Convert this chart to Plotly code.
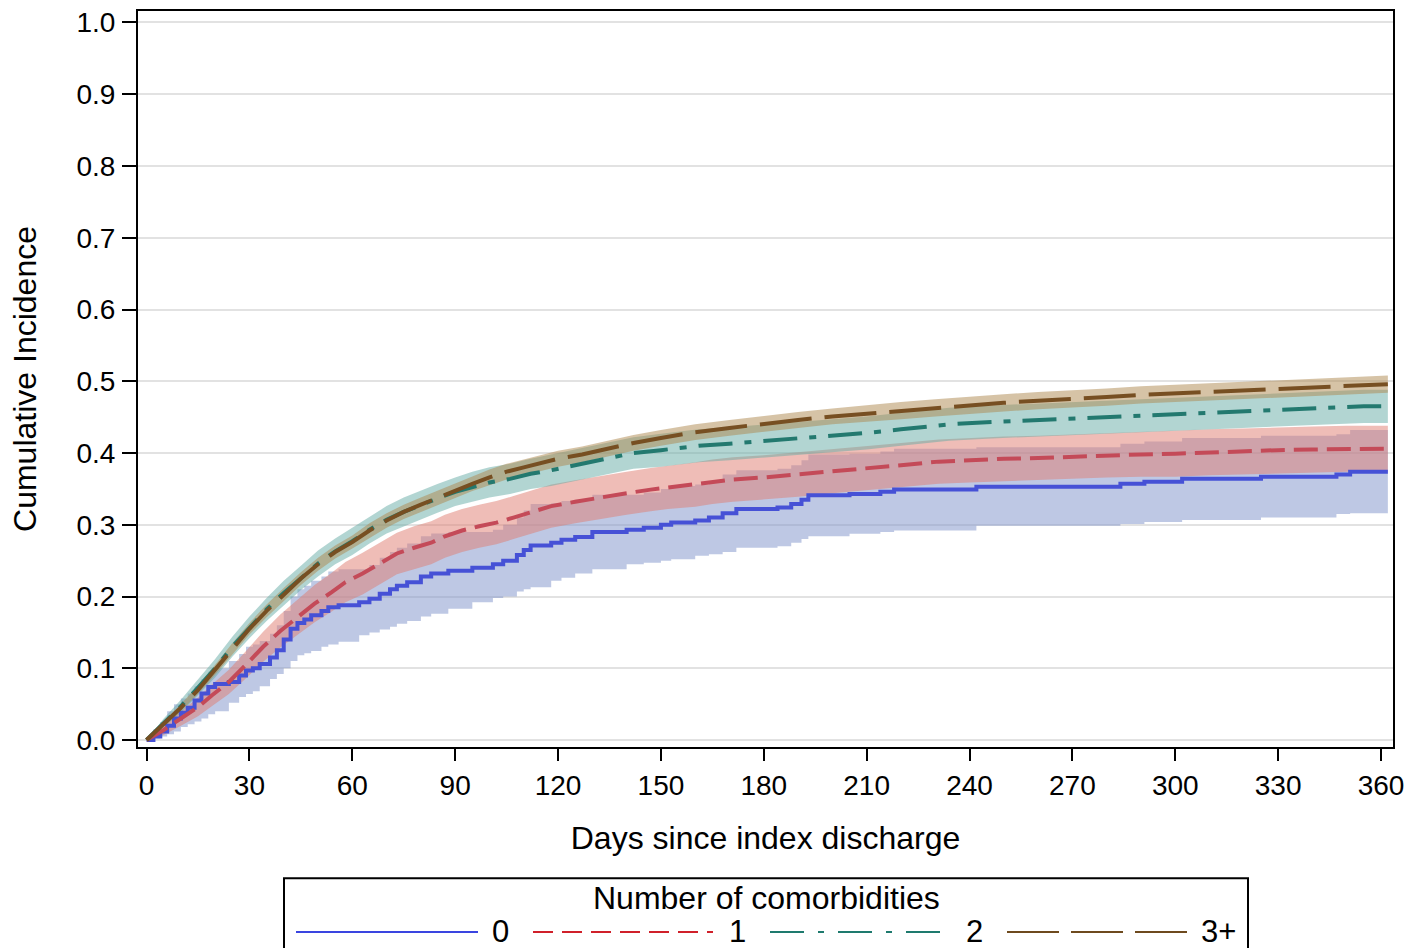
import plotly.graph_objects as go

# ---------------- data ----------------
group_names = ["0", "1", "2", "3+"]
x_ticks = [0, 30, 60, 90, 120, 150, 180, 210, 240, 270, 300, 330, 360]
y_ticks = [0.0, 0.1, 0.2, 0.3, 0.4, 0.5, 0.6, 0.7, 0.8, 0.9, 1.0]

# group 0
days_0 = [0, 2, 4, 6, 8, 10, 12, 14, 16, 18,
          20, 24, 27, 29, 31, 33, 36, 38, 40, 42,
          44, 46, 48, 51, 53, 56, 62, 65, 68, 71,
          73, 76, 80, 83, 88, 95, 101, 104, 108, 110,
          112, 118, 121, 125, 130, 140, 145, 150, 153, 160,
          164, 168, 172, 184, 188, 191, 193, 205, 214, 218,
          242, 284, 291, 302, 325, 347, 351, 362]
cif_0 = [0, .005, .012, .02, .03, .038, .045, .055, .065, .074,
         .078, .081, .09, .097, .1, .106, .115, .125, .14, .155,
         .163, .168, .174, .18, .185, .188, .192, .197, .204, .21,
         .215, .22, .228, .232, .236, .24, .245, .25, .258, .265,
         .271, .275, .279, .283, .29, .293, .296, .3, .303, .306,
         .31, .316, .322, .324, .329, .335, .341, .343, .346, .349,
         .353, .357, .36, .364, .367, .37, .374, .374]
lcl_0 = [0, .002, .005, .008, .012, .018, .022, .026, .03, .036,
         .04, .052, .06, .064, .068, .075, .085, .092, .1, .11,
         .118, .121, .124, .13, .133, .137, .146, .15, .154, .158,
         .162, .166, .172, .176, .183, .192, .198, .2, .207, .21,
         .213, .222, .226, .232, .238, .245, .247, .25, .252, .257,
         .259, .262, .268, .27, .275, .28, .284, .2875, .29, .292,
         .2985, .301, .304, .3065, .31, .315, .316, .316]
ucl_0 = [0, .015, .025, .04, .05, .058, .065, .075, .085, .095,
         .1, .11, .12, .13, .133, .138, .148, .16, .18, .2,
         .21, .215, .222, .228, .235, .238, .238, .244, .254, .262,
         .268, .274, .284, .288, .29, .29, .293, .3, .31, .32,
         .329, .33, .333, .335, .342, .342, .345, .35, .354, .356,
         .361, .37, .376, .378, .383, .39, .398, .399, .402, .406,
         .408, .413, .416, .421, .424, .426, .432, .432]

# group 1
days_1 = [0, 5, 10, 15, 19, 24, 29, 34, 39, 44,
          49, 54, 58, 63, 68, 73, 78, 83, 87, 92,
          97, 102, 107, 112, 118, 125, 132, 140, 147, 152,
          160, 165, 171, 180, 190, 200, 210, 220, 231, 240,
          250, 260, 270, 280, 290, 300, 310, 320, 330, 340,
          350, 362]
cif_1 = [0, .014, .030, .046, .062, .081, .105, .130, .152, .171,
         .190, .206, .220, .232, .246, .260, .268, .275, .284, .292,
         .298, .303, .310, .317, .326, .332, .338, .344, .349, .352,
         .356, .360, .363, .366, .370, .375, .379, .383, .388, .390,
         .392, .393, .395, .397, .398, .399, .401, .402, .404, .405,
         .406, .406]
ucl_1 = [0, .022, .040, .059, .077, .098, .124, .151, .175, .196,
         .216, .233, .248, .261, .275, .289, .298, .305, .314, .322,
         .328, .333, .340, .347, .356, .362, .368, .374, .379, .382,
         .387, .391, .394, .397, .401, .406, .410, .414, .419, .421,
         .423, .424, .426, .428, .430, .431, .433, .434, .436, .437,
         .438, .438]
lcl_1 = [0, .007, .020, .033, .047, .064, .086, .109, .129, .146,
         .164, .179, .192, .203, .217, .231, .238, .245, .254, .262,
         .268, .273, .280, .287, .296, .302, .308, .314, .319, .322,
         .325, .329, .332, .335, .339, .344, .348, .352, .357, .359,
         .361, .362, .364, .366, .367, .367, .369, .370, .372, .373,
         .374, .374]

# group 2
days_2 = [0, 5, 10, 15, 20, 25, 30, 35, 40, 45,
          50, 55, 60, 65, 70, 75, 80, 85, 90, 95,
          100, 106, 112, 118, 122, 130, 142, 150, 161, 170,
          181, 190, 200, 210, 220, 234, 245, 255, 265, 275,
          285, 295, 305, 315, 325, 335, 345, 355, 362]
cif_2 = [0, .024, .047, .073, .1, .13, .157, .182, .205, .226,
         .246, .263, .277, .293, .307, .318, .328, .337, .346, .353,
         .359, .364, .371, .376, .38, .389, .4, .404, .41, .413,
         .417, .42, .424, .428, .433, .44, .443, .445, .447, .449,
         .45, .452, .455, .457, .459, .461, .463, .465, .465]
lcl_2 = [0, .018, .038, .062, .087, .116, .142, .166, .188, .209,
         .228, .245, .258, .274, .288, .298, .308, .317, .326, .332,
         .338, .343, .35, .354, .358, .367, .378, .381, .387, .39,
         .394, .397, .401, .405, .41, .417, .42, .422, .424, .426,
         .427, .429, .432, .434, .436, .438, .44, .442, .442]
ucl_2 = [0, .03, .056, .084, .113, .144, .172, .198, .222, .243,
         .264, .281, .296, .312, .326, .338, .348, .357, .366, .374,
         .38, .385, .392, .398, .402, .411, .422, .427, .433, .436,
         .44, .443, .447, .451, .456, .463, .466, .468, .47, .472,
         .473, .475, .478, .48, .482, .484, .486, .488, .488]

# group 3+
days_3 = [0, 5, 10, 15, 20, 25, 30, 35, 40, 45,
          50, 55, 60, 65, 70, 75, 80, 85, 90, 95,
          100, 105, 110, 115, 120, 127, 135, 142, 150, 160,
          170, 180, 190, 200, 210, 220, 230, 240, 250, 260,
          270, 280, 290, 300, 310, 320, 330, 340, 350, 362]
cif_3 = [0, .022, .045, .07, .098, .127, .155, .18, .203, .225,
         .245, .262, .276, .292, .306, .318, .328, .338, .348, .357,
         .366, .374, .38, .386, .392, .398, .407, .414, .421, .429,
         .435, .441, .446, .451, .455, .459, .463, .467, .47, .473,
         .475, .478, .481, .483, .485, .487, .489, .491, .494, .496]
lcl_3 = [0, .018, .04, .064, .091, .119, .147, .171, .194, .216,
         .236, .253, .267, .282, .296, .308, .318, .328, .338, .347,
         .355, .363, .369, .375, .381, .387, .396, .403, .41, .418,
         .424, .43, .435, .44, .443, .447, .451, .455, .458, .461,
         .463, .466, .469, .471, .473, .475, .477, .479, .482, .484]
ucl_3 = [0, .026, .05, .076, .105, .135, .163, .189, .212, .234,
         .254, .271, .285, .302, .316, .328, .338, .348, .358, .367,
         .377, .385, .391, .397, .403, .409, .418, .425, .432, .44,
         .446, .452, .457, .462, .467, .471, .475, .479, .482, .485,
         .487, .49, .493, .495, .497, .499, .501, .503, .506, .508]

# ---------------- styles ----------------
FONT = "Liberation Sans, Arial, sans-serif"
line_colors = ["#4651D6", "#C44A58", "#23796F", "#774F22"]
legend_colors = ["#3A45E0", "#D0202A", "#1E7A6E", "#6E4A1E"]
band_colors = ["rgba(125,145,201,0.5)", "rgba(223,123,111,0.5)",
               "rgba(101,171,165,0.5)", "rgba(173,135,77,0.5)"]
plot_dash = ["solid", "24px,9px", "34px,12px,7px,12px", "52px,13px"]
legend_dash = ["solid", "20px,9px", "34px,14px,6px,14px", "52px,12px"]
line_shapes = ["hv", "linear", "linear", "linear"]

groups = [
    (days_0, cif_0, lcl_0, ucl_0),
    (days_1, cif_1, lcl_1, ucl_1),
    (days_2, cif_2, lcl_2, ucl_2),
    (days_3, cif_3, lcl_3, ucl_3),
]

fig = go.Figure()

# confidence bands
for i, (d, c, lo, up) in enumerate(groups):
    fig.add_trace(go.Scatter(x=d, y=lo, mode="lines",
                             line=dict(width=0, shape=line_shapes[i]),
                             showlegend=False, hoverinfo="skip"))
    fig.add_trace(go.Scatter(x=d, y=up, mode="lines",
                             line=dict(width=0, shape=line_shapes[i]),
                             fill="tonexty", fillcolor=band_colors[i],
                             showlegend=False, hoverinfo="skip"))

# estimate lines
for i, (d, c, lo, up) in enumerate(groups):
    fig.add_trace(go.Scatter(x=d, y=c, mode="lines", name=group_names[i],
                             line=dict(color=line_colors[i], width=4, shape=line_shapes[i],
                                       dash=plot_dash[i]),
                             showlegend=False))

# ---------------- manual legend (paper coords) ----------------
L, R, T, B = 138, 1393, 7, 747
W, H = R - L, B - T


def px(x):
    return (x - L) / W


def py(y):
    return (B - y) / H


shapes = [dict(type="rect", xref="paper", yref="paper",
               x0=px(284), x1=px(1248), y0=py(879), y1=py(975),
               line=dict(color="black", width=2), fillcolor="rgba(0,0,0,0)", layer="above")]
annotations = [dict(text="Number of comorbidities", xref="paper", yref="paper",
                    x=px(766), y=py(899), xanchor="center", yanchor="middle",
                    showarrow=False, font=dict(family=FONT, size=32, color="black"))]
leg_lines = [(296, 478, 500), (533, 713, 737), (770, 943, 974), (1007, 1188, 1218)]
for i, (a, b, t) in enumerate(leg_lines):
    shapes.append(dict(type="line", xref="paper", yref="paper",
                       x0=px(a), x1=px(b), y0=py(933), y1=py(933),
                       line=dict(color=legend_colors[i], width=2, dash=legend_dash[i])))
    annotations.append(dict(text=group_names[i], xref="paper", yref="paper",
                            x=px(t), y=py(933), xanchor="center", yanchor="middle",
                            showarrow=False, font=dict(family=FONT, size=31, color="black")))

fig.update_layout(
    width=1414, height=948,
    margin=dict(l=L, r=1414 - R, t=T, b=948 - B, pad=0),
    paper_bgcolor="white", plot_bgcolor="white",
    font=dict(family=FONT, color="black"),
    showlegend=False,
    shapes=shapes, annotations=annotations,
    xaxis=dict(range=[-2.5, 363.5], tickvals=x_ticks, ticks="outside", ticklen=12,
               tickwidth=2, tickcolor="black", showline=True, linewidth=2, linecolor="black",
               mirror=True, showgrid=False, zeroline=False,
               tickfont=dict(family=FONT, size=28, color="black"),
               title=dict(text="Days since index discharge", standoff=27,
                          font=dict(family=FONT, size=32, color="black"))),
    yaxis=dict(range=[-0.0097, 1.016], tickvals=y_ticks, tickformat=".1f", ticks="outside",
               ticklen=14, tickwidth=2, tickcolor="black", showline=True, linewidth=2,
               linecolor="black", mirror=True, showgrid=True, gridcolor="#E2E2E2",
               gridwidth=2, zeroline=False, ticklabelstandoff=1,
               tickfont=dict(family=FONT, size=28, color="black"),
               title=dict(text="Cumulative Incidence", standoff=30,
                          font=dict(family=FONT, size=32, color="black"))),
)

fig.write_html("out.html")
